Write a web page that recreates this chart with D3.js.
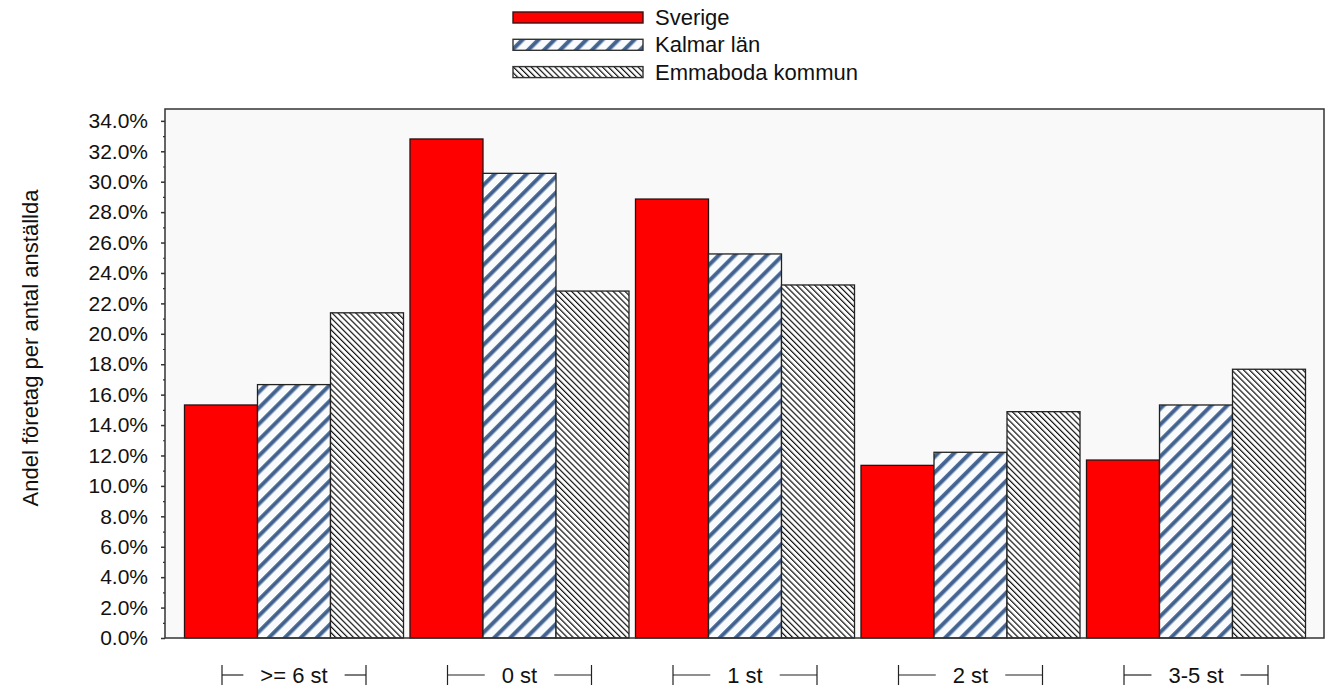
<!DOCTYPE html>
<html>
<head>
<meta charset="utf-8">
<script src="https://cdn.jsdelivr.net/npm/d3@7"></script>
<style>
  html, body { margin: 0; padding: 0; background: #ffffff; }
  svg { display: block; }
  text { font-family: "Liberation Sans", Arial, sans-serif; fill: #111; }
</style>
</head>
<body>
<svg id="chart" width="1329" height="693"></svg>
<script>
const categories = [">= 6 st", "0 st", "1 st", "2 st", "3-5 st"];
const seriesNames = ["Sverige", "Kalmar län", "Emmaboda kommun"];
const sverige = [15.32, 32.81, 28.86, 11.35, 11.70];
const kalmar = [16.66, 30.55, 25.25, 12.21, 15.32];
const emmaboda = [21.38, 22.81, 23.21, 14.88, 17.67];
const yMajorTicks = [0, 2, 4, 6, 8, 10, 12, 14, 16, 18, 20, 22, 24, 26, 28, 30, 32, 34];
const yTitle = "Andel företag per antal anställda";

const seriesValues = [sverige, kalmar, emmaboda];
const svg = d3.select("#chart");

const plot = { left: 165, right: 1324, top: 109, bottom: 638 };

const defs = svg.append("defs");
// Kalmar: blue diagonal stripes "/"
const pk = defs.append("pattern").attr("id", "patKalmar")
  .attr("patternUnits", "userSpaceOnUse").attr("width", 11.3).attr("height", 11.3)
  .attr("patternTransform", "rotate(45)");
pk.append("rect").attr("width", 11.3).attr("height", 11.3).attr("fill", "#fafbfd");
pk.append("rect").attr("x", 0).attr("width", 4.2).attr("height", 11.3).attr("fill", "#5273a0");
pk.append("rect").attr("x", 1.5).attr("width", 1.2).attr("height", 11.3).attr("fill", "#3a5680");
// Emmaboda: black thin lines "\"
const pe = defs.append("pattern").attr("id", "patEmma")
  .attr("patternUnits", "userSpaceOnUse").attr("width", 4.2).attr("height", 4.2)
  .attr("patternTransform", "rotate(-45)");
pe.append("rect").attr("width", 4.2).attr("height", 4.2).attr("fill", "#ffffff");
pe.append("rect").attr("x", 0).attr("width", 1.2).attr("height", 4.2).attr("fill", "#111");

const fills = ["#ff0000", "url(#patKalmar)", "url(#patEmma)"];
const strokes = ["#2a1010", "#222", "#222"];

const x = d3.scaleBand().domain(categories).range([178, 1312]).paddingInner(0.0288).paddingOuter(0.0288);
const xs = d3.scaleBand().domain(seriesNames).range([0, x.bandwidth()]).padding(0);
const y = d3.scaleLinear().domain([0, 34.78]).range([plot.bottom, plot.top]);

// plot background
svg.append("rect").attr("x", plot.left).attr("y", plot.top)
  .attr("width", plot.right - plot.left).attr("height", plot.bottom - plot.top)
  .attr("fill", "#f9f9f9");

// bars
const groups = svg.append("g").selectAll("g").data(categories).join("g")
  .attr("transform", d => `translate(${x(d)},0)`);
groups.selectAll("rect").data((d, i) => seriesNames.map((s, j) => ({ s, j, v: seriesValues[j][i] })))
  .join("rect")
  .attr("x", d => xs(d.s))
  .attr("y", d => y(d.v))
  .attr("width", xs.bandwidth())
  .attr("height", d => y(0) - y(d.v))
  .attr("fill", d => fills[d.j])
  .attr("stroke", d => strokes[d.j])
  .attr("stroke-width", 1.3);

// frame
svg.append("rect").attr("x", plot.left).attr("y", plot.top)
  .attr("width", plot.right - plot.left).attr("height", plot.bottom - plot.top)
  .attr("fill", "none").attr("stroke", "#333").attr("stroke-width", 1.5);

// y axis
const yAxis = d3.axisLeft(y).tickValues(yMajorTicks).tickSize(4).tickPadding(13)
  .tickFormat(d => d3.format(".1%")(d / 100));
const gy = svg.append("g").attr("transform", `translate(${plot.left},0)`).call(yAxis);
gy.select(".domain").remove();
gy.selectAll(".tick line").attr("stroke", "#333").attr("stroke-width", 1.5);
gy.selectAll(".tick text").style("font-size", "21px").attr("fill", "#111")
  .style("font-family", "'Liberation Sans', Arial, sans-serif");
const minor = d3.range(1, 35, 2);
const gyMinor = svg.append("g").attr("transform", `translate(${plot.left},0)`)
  .call(d3.axisLeft(y).tickValues(minor).tickSize(2).tickFormat(""));
gyMinor.select(".domain").remove();
gyMinor.selectAll(".tick line").attr("stroke", "#333").attr("stroke-width", 1.2);

// y title
svg.append("text")
  .attr("transform", `translate(38,348) rotate(-90)`)
  .attr("text-anchor", "middle")
  .style("font-size", "22px")
  .text(yTitle);

// x labels with bracket decorations
const xl = svg.append("g");
categories.forEach(c => {
  const cx = x(c) + x.bandwidth() / 2;
  const t = xl.append("text").attr("x", cx).attr("y", 683).attr("text-anchor", "middle")
    .style("font-size", "22px").text(c);
  const w = t.node().getComputedTextLength();
  const half = 72, gap = 17, ly = 675;
  xl.append("line").attr("x1", cx - half).attr("x2", cx - half).attr("y1", 665).attr("y2", 685).attr("stroke", "#222").attr("stroke-width", 1.2);
  xl.append("line").attr("x1", cx - half).attr("x2", cx - w / 2 - gap).attr("y1", ly).attr("y2", ly).attr("stroke", "#222").attr("stroke-width", 1.2);
  xl.append("line").attr("x1", cx + half).attr("x2", cx + half).attr("y1", 665).attr("y2", 685).attr("stroke", "#222").attr("stroke-width", 1.2);
  xl.append("line").attr("x1", cx + half).attr("x2", cx + w / 2 + gap).attr("y1", ly).attr("y2", ly).attr("stroke", "#222").attr("stroke-width", 1.2);
});

// legend
const lg = svg.append("g");
seriesNames.forEach((s, j) => {
  const top = 12 + j * 27.3;
  lg.append("rect").attr("x", 513).attr("y", top).attr("width", 130).attr("height", 11)
    .attr("fill", fills[j]).attr("stroke", j === 0 ? "#3a1010" : "#333").attr("stroke-width", 1.4);
  lg.append("text").attr("x", 655).attr("y", top + 13).style("font-size", "22px").text(s);
});
</script>
</body>
</html>
